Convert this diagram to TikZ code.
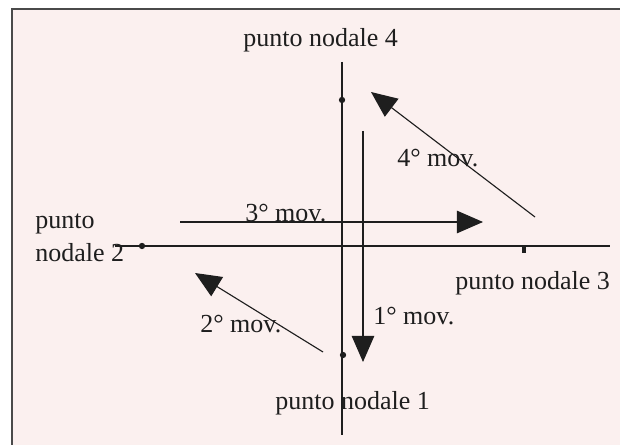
\documentclass[tikz,border=0pt]{standalone}
\usepackage{fontspec}
\setmainfont{Liberation Serif}
\usepackage{tikz}
\usetikzlibrary{arrows.meta,positioning}
\definecolor{ink}{HTML}{1E1E1E}
\definecolor{frame}{HTML}{4A4A4A}
\definecolor{paper}{HTML}{FBF0EF}
\tikzset{
  lbl/.style={font=\fontsize{18.5}{24}\selectfont,text=ink,inner sep=0pt,anchor=base west,align=left},
  asse/.style={draw=ink,line width=2pt},
  mov/.style={draw=ink,line width=0.8pt,-{Triangle[length=6.5mm,width=5.6mm]}},
  dot/.style={fill=ink,circle,inner sep=0pt,minimum size=4.5pt},
}
\begin{document}
\begin{tikzpicture}[x=0.025cm,y=-0.025cm]
  \useasboundingbox (0,0) rectangle (620,445);
  \fill[white] (0,0) rectangle (620,445);
  \fill[paper] (12,9) rectangle (620,445);
  \draw[frame,line width=1.6pt] (12,455) -- (12,9) -- (640,9);
  % axes
  \coordinate (vtop) at (342,62);
  \coordinate (vbot) at (342,435);
  \coordinate (hleft) at (115,246);
  \coordinate (hright) at (610,246);
  \draw[asse] (vtop) -- (vbot);
  \draw[asse] (hleft) -- (hright);
  % nodal points
  \node[dot] (n4) at (342,100) {};
  \node[dot] (n1) at (343,355) {};
  \node[dot] (n2) at (142,246) {};
  \coordinate (n3) at (524,246);
  \draw[draw=ink,line width=2.4pt] (n3) -- ++(0,7);
  \node[lbl] (l4) at (243,47) {punto nodale 4};
  \node[lbl] (l3) at (455,290) {punto nodale 3};
  \node[lbl] (l1) at (275,410) {punto nodale 1};
  \node[lbl] (l2) at (35,262) {punto\\nodale 2};
  % movements
  \coordinate (m1a) at (363,131); \coordinate (m1b) at (363,362);
  \coordinate (m2a) at (323,352); \coordinate (m2b) at (195,273);
  \coordinate (m3a) at (180,222); \coordinate (m3b) at (483,222);
  \coordinate (m4a) at (535,217); \coordinate (m4b) at (371,92);
  \foreach \i in {1,2,3,4}{ \draw[mov] (m\i a) -- (m\i b); }
  \node[lbl] (t1) at (373,325) {1° mov.};
  \node[lbl] (t2) at (200,333) {2° mov.};
  \node[lbl] (t3) at (245,222) {3° mov.};
  \node[lbl] (t4) at (397,167) {4° mov.};
\end{tikzpicture}
\end{document}
